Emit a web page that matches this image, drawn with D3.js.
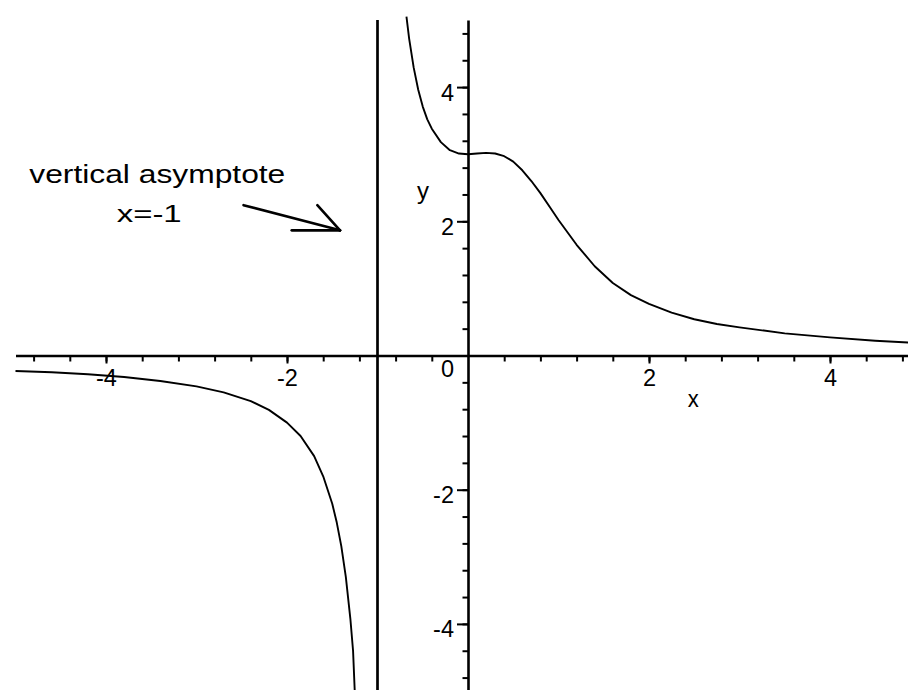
<!DOCTYPE html>
<html>
<head>
<meta charset="utf-8">
<script src="https://cdn.jsdelivr.net/npm/d3@7"></script>
<style>
  html, body { margin: 0; padding: 0; background: #fff; overflow: hidden; }
  svg { display: block; }
  text { font-family: "Liberation Sans", Arial, Helvetica, sans-serif; fill: #000; }
</style>
</head>
<body>
<svg id="chart" width="908" height="690"></svg>
<script>
// ---------------- data ----------------
// branch left of the asymptote x = -1
const leftX = [-5.0, -4.6, -4.2, -3.8, -3.4, -3.0, -2.7, -2.4, -2.2, -2.0, -1.85, -1.7, -1.6, -1.5, -1.45, -1.4, -1.35, -1.3, -1.27, -1.25];
const leftY = [-0.23, -0.25, -0.28, -0.32, -0.38, -0.46, -0.55, -0.68, -0.81, -1.0, -1.2, -1.5, -1.8, -2.21, -2.49, -2.84, -3.3, -3.92, -4.4, -5.05];
// branch right of the asymptote
const rightX = [-0.68, -0.65, -0.6, -0.55, -0.5, -0.45, -0.4, -0.3, -0.2, -0.1, 0, 0.1, 0.2, 0.3, 0.4, 0.5, 0.6, 0.7, 0.8, 0.9, 1.0, 1.2, 1.4, 1.6, 1.8, 2.0, 2.25, 2.5, 2.75, 3.0, 3.5, 4.0, 4.5, 4.9];
const rightY = [5.05, 4.72, 4.29, 3.96, 3.71, 3.52, 3.38, 3.18, 3.06, 3.01, 3.0, 3.01, 3.02, 3.01, 2.97, 2.89, 2.76, 2.6, 2.42, 2.22, 2.02, 1.65, 1.33, 1.08, 0.9, 0.77, 0.64, 0.54, 0.47, 0.42, 0.33, 0.27, 0.22, 0.19];
const xTickLabels = [-4, -2, 2, 4];
const yTickLabels = [-4, -2, 2, 4];
const minorStep = 0.4;
const asymptoteX = -1;
const annotationText = ["vertical asymptote", "x=-1"];
const axisTitles = ["x", "y"];

// ---------------- layout ----------------
const W = 908, H = 690;
const x = d3.scaleLinear().domain([-5, 5]).range([15.5, 920.5]);
const y = d3.scaleLinear().domain([-5, 5]).range([691, 20]);
const svg = d3.select("#chart");
svg.append("rect").attr("width", W).attr("height", H).attr("fill", "#fff");

const minorTicks = d3.range(-12, 13).filter(k => k !== 0).map(k => k * minorStep);
const labelSize = 23.5;

// X axis
const gx = svg.append("g").attr("transform", `translate(0,${y(0)})`);
gx.call(d3.axisBottom(x).tickValues(minorTicks).tickSize(6).tickSizeOuter(0).tickFormat(""));
gx.select(".domain").attr("stroke", "#000").attr("stroke-width", 2.6);
gx.selectAll(".tick line").attr("stroke", "#000").attr("stroke-width", 2);
const gx2 = svg.append("g").attr("transform", `translate(0,${y(0)})`);
gx2.call(d3.axisBottom(x).tickValues(xTickLabels).tickSize(8).tickPadding(6).tickFormat(d => String(d)));
gx2.select(".domain").remove();
gx2.selectAll(".tick line").attr("stroke", "#000").attr("stroke-width", 2);
gx2.selectAll(".tick text").attr("font-size", labelSize).attr("font-family", null).attr("fill", "#000");

// Y axis
const gy = svg.append("g").attr("transform", `translate(${x(0)},0)`);
gy.call(d3.axisLeft(y).tickValues(minorTicks).tickSize(5.5).tickSizeOuter(0).tickFormat(""));
gy.select(".domain").attr("stroke", "#000").attr("stroke-width", 2.6);
gy.selectAll(".tick line").attr("stroke", "#000").attr("stroke-width", 2);
const gy2 = svg.append("g").attr("transform", `translate(${x(0)},0)`);
gy2.call(d3.axisLeft(y).tickValues(yTickLabels).tickSize(11).tickPadding(3).tickFormat(d => String(d)));
gy2.select(".domain").remove();
gy2.selectAll(".tick line").attr("stroke", "#000").attr("stroke-width", 2);
gy2.selectAll(".tick text").attr("font-size", labelSize).attr("font-family", null).attr("fill", "#000").attr("dy", "0.55em");

// origin label
svg.append("text").attr("x", x(0) - 20.5).attr("y", y(0) + 21.5)
  .attr("text-anchor", "middle").attr("font-size", labelSize).text("0");

// axis titles
svg.append("text").attr("x", x(2.49)).attr("y", y(0) + 51.5)
  .attr("text-anchor", "middle").attr("font-size", 24).attr("textLength", 11)
  .attr("lengthAdjust", "spacingAndGlyphs").text(axisTitles[0]);
svg.append("text").attr("x", x(0) - 45).attr("y", y(0) - 157)
  .attr("text-anchor", "middle").attr("font-size", 24).text(axisTitles[1]);

// vertical asymptote
svg.append("line")
  .attr("x1", x(asymptoteX)).attr("x2", x(asymptoteX))
  .attr("y1", y(5)).attr("y2", y(-5))
  .attr("stroke", "#000").attr("stroke-width", 2.7);

// curve
const line = d3.line().x(d => x(d[0])).y(d => y(d[1]));
const branches = [d3.zip(leftX, leftY), d3.zip(rightX, rightY)];
svg.selectAll("path.curve").data(branches).join("path")
  .attr("class", "curve")
  .attr("d", line)
  .attr("fill", "none").attr("stroke", "#000").attr("stroke-width", 1.9)
  .attr("stroke-linejoin", "round");

// annotation
svg.append("text").attr("x", 29.3).attr("y", 183.3)
  .attr("font-size", 25.5).attr("textLength", 256).attr("lengthAdjust", "spacingAndGlyphs")
  .text(annotationText[0]);
svg.append("text").attr("x", 116.7).attr("y", 221.7)
  .attr("font-size", 24.5).attr("textLength", 65).attr("lengthAdjust", "spacingAndGlyphs")
  .text(annotationText[1]);

const arrowTip = [-1.414, 1.865];
const arrowFrom = [[-2.48, 2.24], [-1.665, 2.24], [-1.948, 1.865]];
svg.selectAll("line.arrow").data(arrowFrom).join("line")
  .attr("class", "arrow")
  .attr("x1", d => x(d[0])).attr("y1", d => y(d[1]))
  .attr("x2", x(arrowTip[0])).attr("y2", y(arrowTip[1]))
  .attr("stroke", "#000").attr("stroke-width", 2.6).attr("stroke-linecap", "round");
</script>
</body>
</html>
